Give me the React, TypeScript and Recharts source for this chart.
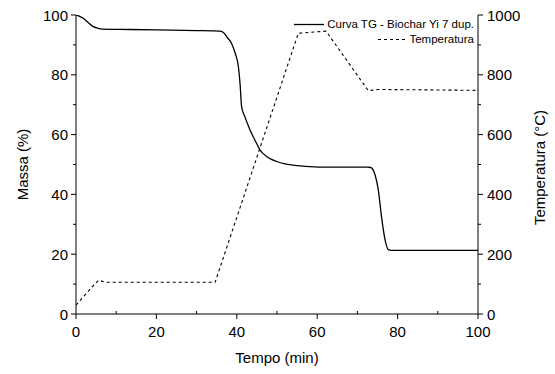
import React from 'react';
import { LineChart, Line, XAxis, YAxis } from 'recharts';

const tgTime = [0, 0.5, 1.8, 3, 4.3, 5.4, 6.4, 10.9, 20, 30, 35.8, 36.8, 37.5, 38.7, 39.6, 40.4, 40.8, 41.2, 42.0, 43.3, 44.9, 45.8, 47.5, 49.9, 52, 54, 58.2, 62, 66, 70, 72.5, 73.3, 74.4, 75.2, 76.0, 76.9, 77.7, 78.5, 85, 92, 100];
const tgMass = [100, 99.8, 98.9, 97.5, 96.1, 95.6, 95.3, 95.2, 95.0, 94.8, 94.6, 94.0, 92.7, 90.5, 87.2, 82.7, 77.2, 69.3, 66.0, 61.5, 57.1, 54.8, 52.6, 51.0, 50.2, 49.8, 49.3, 49.1, 49.1, 49.1, 49.1, 49.0, 46.5, 41.5, 32.5, 24.7, 21.5, 21.3, 21.3, 21.3, 21.3];

const tempTime = [0, 3.3, 5.6, 7.5, 20, 34.6, 55.3, 62.2, 72.7, 75, 100];
const tempValue = [30, 80, 113, 106, 106, 106, 939, 946, 747, 751, 748];

const xTicks = [0, 10, 20, 30, 40, 50, 60, 70, 80, 90, 100];
const leftTicks = [0, 10, 20, 30, 40, 50, 60, 70, 80, 90, 100];
const rightTicks = [0, 100, 200, 300, 400, 500, 600, 700, 800, 900, 1000];

const seriesNames = ['Curva TG - Biochar Yi 7 dup.', 'Temperatura'];
const axisTitles = { x: 'Tempo (min)', left: 'Massa (%)', right: 'Temperatura (°C)' };

const tgData = tgTime.map((t, i) => ({ t, m: tgMass[i] }));
const tempData = tempTime.map((t, i) => ({ t, T: tempValue[i] }));

const FONT = 'Liberation Sans, Arial, sans-serif';
const FS = 15;

const BottomTick = (props: any) => {
  const { x, y, payload } = props;
  const v = payload.value;
  const major = v % 20 === 0;
  return (
    <g>
      {major ? (
        <line x1={x} x2={x} y1={y} y2={y + 5} stroke="#000" strokeWidth={1} />
      ) : (
        <line x1={x} x2={x} y1={y} y2={y - 3} stroke="#000" strokeWidth={1} />
      )}
      {major && (
        <text x={x} y={y + 23} textAnchor="middle" fontFamily={FONT} fontSize={FS} fill="#000">
          {v}
        </text>
      )}
    </g>
  );
};

const TopTick = (props: any) => {
  const { x, y, payload } = props;
  const v = payload.value;
  if (v === 0 || v === 100) return <g />;
  return <line x1={x} x2={x} y1={y} y2={y + 3} stroke="#000" strokeWidth={1} />;
};

const LeftTick = (props: any) => {
  const { x, y, payload } = props;
  const v = payload.value;
  const major = v % 20 === 0;
  return (
    <g>
      <line x1={x} x2={x - (major ? 5 : 3)} y1={y} y2={y} stroke="#000" strokeWidth={1} />
      {major && (
        <text x={x - 8} y={y + 5.5} textAnchor="end" fontFamily={FONT} fontSize={FS} fill="#000">
          {v}
        </text>
      )}
    </g>
  );
};

const RightTick = (props: any) => {
  const { x, y, payload } = props;
  const v = payload.value;
  const major = v % 200 === 0;
  return (
    <g>
      <line x1={x} x2={x + (major ? 5 : 3)} y1={y} y2={y} stroke="#000" strokeWidth={1} />
      {major && (
        <text x={x + 9} y={y + 5.5} textAnchor="start" fontFamily={FONT} fontSize={FS} fill="#000">
          {v}
        </text>
      )}
    </g>
  );
};

const LeftTitle = (props: any) => {
  const vb = props.viewBox || {};
  const cx = 22;
  const cy = vb.y + vb.height / 2;
  return (
    <text x={cx} y={cy} transform={`rotate(-90, ${cx}, ${cy})`} textAnchor="middle" dominantBaseline="central" fontFamily={FONT} fontSize={FS} fill="#000">
      {axisTitles.left}
    </text>
  );
};

const RightTitle = (props: any) => {
  const vb = props.viewBox || {};
  const cx = 539;
  const cy = vb.y + vb.height / 2 + 3;
  return (
    <text x={cx} y={cy} transform={`rotate(-90, ${cx}, ${cy})`} textAnchor="middle" dominantBaseline="central" fontFamily={FONT} fontSize={FS} fill="#000">
      {axisTitles.right}
    </text>
  );
};

const BottomTitle = (props: any) => {
  const vb = props.viewBox || {};
  const cx = vb.x + vb.width / 2;
  return (
    <text x={cx} y={363} textAnchor="middle" fontFamily={FONT} fontSize={FS} fill="#000">
      {axisTitles.x}
    </text>
  );
};

export default function App() {
  return (
    <div style={{ position: 'absolute', left: 0, top: 0, width: 555, height: 374, background: '#fff' }}>
      <LineChart width={555} height={374} margin={{ top: 15, right: 0, left: 0, bottom: 0 }}>
        <XAxis
          xAxisId="bottom"
          dataKey="t"
          type="number"
          domain={[0, 100]}
          ticks={xTicks}
          orientation="bottom"
          height={60}
          tickSize={0}
          tickMargin={0}
          tickLine={false}
          tick={<BottomTick />}
          axisLine={{ stroke: '#000', strokeWidth: 1 }}
          allowDataOverflow
          label={<BottomTitle />}
        />
        <XAxis
          xAxisId="top"
          dataKey="t"
          type="number"
          domain={[0, 100]}
          ticks={xTicks}
          orientation="top"
          height={0}
          mirror
          tickSize={0}
          tickMargin={0}
          tickLine={false}
          tick={<TopTick />}
          axisLine={{ stroke: '#000', strokeWidth: 1 }}
        />
        <YAxis
          yAxisId="left"
          orientation="left"
          domain={[0, 100]}
          ticks={leftTicks}
          width={76}
          tickSize={0}
          tickMargin={0}
          tickLine={false}
          tick={<LeftTick />}
          axisLine={{ stroke: '#000', strokeWidth: 1 }}
          allowDataOverflow
          label={<LeftTitle />}
        />
        <YAxis
          yAxisId="right"
          orientation="right"
          domain={[0, 1000]}
          ticks={rightTicks}
          width={77}
          tickSize={0}
          tickMargin={0}
          tickLine={false}
          tick={<RightTick />}
          axisLine={{ stroke: '#000', strokeWidth: 1 }}
          allowDataOverflow
          label={<RightTitle />}
        />
        <Line
          xAxisId="bottom"
          yAxisId="right"
          data={tempData}
          dataKey="T"
          type="linear"
          stroke="#000"
          strokeWidth={1.1}
          strokeDasharray="3 3"
          dot={false}
          activeDot={false}
          isAnimationActive={false}
        />
        <Line
          xAxisId="bottom"
          yAxisId="left"
          data={tgData}
          dataKey="m"
          type="monotone"
          stroke="#000"
          strokeWidth={1.3}
          dot={false}
          activeDot={false}
          isAnimationActive={false}
        />
      </LineChart>
      <div
        style={{
          position: 'absolute',
          top: 17,
          right: 81,
          fontFamily: FONT,
          fontSize: 11.5,
          color: '#000',
          lineHeight: '15px',
          textAlign: 'right',
        }}
      >
        <div style={{ display: 'flex', alignItems: 'center', justifyContent: 'flex-end', whiteSpace: 'nowrap' }}>
          <svg width={30} height={15} style={{ marginRight: 3 }}>
            <line x1={0} x2={30} y1={7.5} y2={7.5} stroke="#000" strokeWidth={1.3} />
          </svg>
          <span>{seriesNames[0]}</span>
        </div>
        <div style={{ display: 'flex', alignItems: 'center', justifyContent: 'flex-end', whiteSpace: 'nowrap' }}>
          <svg width={30} height={15} style={{ marginRight: 3 }}>
            <line x1={0} x2={30} y1={7.5} y2={7.5} stroke="#000" strokeWidth={1.1} strokeDasharray="3 3" strokeDashoffset={-2} />
          </svg>
          <span>{seriesNames[1]}</span>
        </div>
      </div>
    </div>
  );
}
